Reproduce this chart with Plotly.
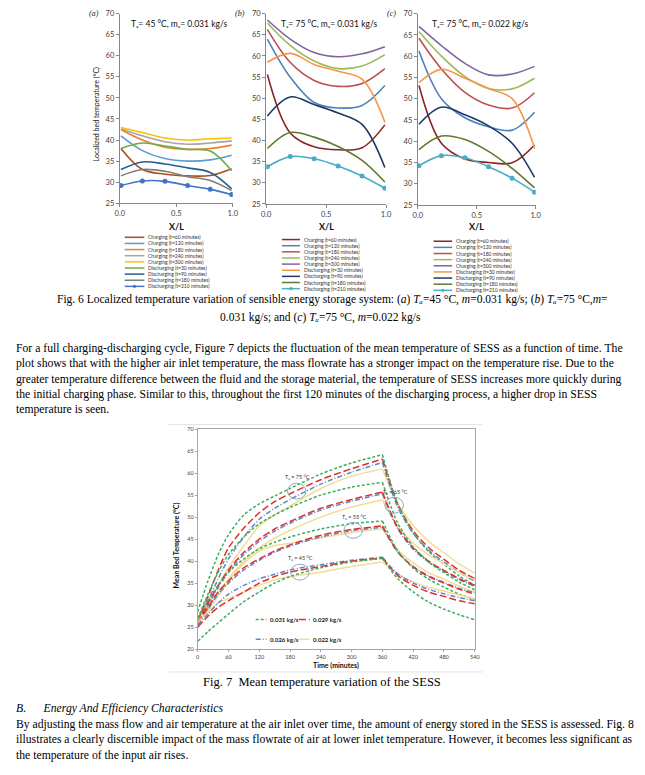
import plotly.graph_objects as go

# The page is drawn inside an 8px body margin; W x H is the figure itself.
W, H = 629, 759
OFF = 8


def px(x):
    return (x - OFF) / W


def py(y):
    return 1 - (y - OFF) / H


# ---------------- Fig. 6 data (localized bed temperature vs X/L) ----------------
X_POS = [0.01, 0.2, 0.4, 0.6, 0.8, 0.99]
SERIES_LABELS = [
    "Charging (t=60 minutes)", "Charging (t=120 minutes)", "Charging (t=180 minutes)",
    "Charging (t=240 minutes)", "Charging (t=300 minutes)", "Discharging (t=30 minutes)",
    "Discharging (t=90 minutes)", "Discharging (t=180 minutes)", "Discharging (t=210 minutes)",
]

# panel (a): Ta=45 C, m=0.031 kg/s
A_C60 = [38.0, 33.0, 31.9, 31.5, 31.6, 33.2]
A_C120 = [41.0, 37.5, 35.6, 35.0, 35.3, 36.4]
A_C180 = [42.5, 40.0, 38.3, 37.8, 38.0, 38.8]
A_C240 = [42.7, 41.0, 39.6, 39.0, 39.3, 39.8]
A_C300 = [43.0, 41.8, 40.5, 40.0, 40.3, 40.5]
A_D30 = [38.0, 39.3, 38.6, 37.8, 37.4, 32.7]
A_D90 = [33.0, 34.8, 34.3, 33.4, 32.3, 28.4]
A_D180 = [31.5, 33.0, 32.6, 31.3, 30.4, 28.0]
A_D210 = [29.2, 30.3, 30.2, 29.2, 28.3, 27.1]

# panel (b): Ta=75 C, m=0.031 kg/s
B_C60 = [55.6, 41.8, 38.5, 37.8, 38.3, 43.7]
B_C120 = [64.0, 55.0, 49.0, 47.7, 48.3, 53.0]
B_C180 = [66.3, 58.5, 54.2, 52.8, 53.5, 57.0]
B_C240 = [67.8, 62.5, 58.8, 57.0, 57.6, 60.3]
B_C300 = [68.5, 64.0, 60.8, 59.8, 60.5, 62.2]
B_D30 = [58.5, 60.6, 58.0, 56.4, 54.5, 44.3]
B_D90 = [45.8, 50.3, 48.5, 46.5, 43.8, 33.6]
B_D180 = [38.1, 41.9, 40.8, 38.6, 35.3, 30.2]
B_D210 = [33.8, 36.2, 35.7, 34.0, 31.6, 28.7]

# panel (c): Ta=75 C, m=0.022 kg/s
C_C60 = [53.1, 39.5, 35.8, 35.0, 34.9, 39.1]
C_C120 = [61.2, 50.0, 45.5, 43.4, 42.6, 46.8]
C_C180 = [64.2, 57.0, 51.5, 48.5, 47.8, 51.4]
C_C240 = [65.8, 60.0, 55.2, 52.4, 52.3, 54.8]
C_C300 = [67.0, 62.5, 58.3, 55.6, 55.8, 57.6]
C_D30 = [53.8, 56.9, 54.8, 52.4, 50.0, 38.3]
C_D90 = [44.0, 48.0, 46.2, 43.6, 39.5, 31.5]
C_D180 = [38.0, 41.2, 40.4, 37.6, 33.6, 29.0]
C_D210 = [34.2, 36.6, 36.1, 34.0, 31.3, 28.0]

COLORS_A = ["#A5501E", "#5B9BD5", "#ED7D31", "#A5A5A5", "#FFC000",
            "#70AD47", "#255E91", "#7F7F7F", "#4472C4"]
COLORS_BC = ["#8B2525", "#4F81BD", "#C0504D", "#9BBB59", "#8064A2",
             "#F79646", "#1F3864", "#5E7A2E", "#4BACC6"]

# ---------------- Fig. 7 data (mean bed temperature vs time) ----------------
TIME_MIN = [0, 20, 40, 60, 90, 120, 150, 180, 240, 300, 360, 390, 420, 450, 480, 510, 540]
T75_F031 = [28.5, 35.5, 41.5, 46.0, 50.5, 53.0, 54.8, 56.5, 59.8, 62.3, 64.2, 52.9, 46.4, 42.2, 39.3, 36.6, 34.5]
T75_F029 = [26.5, 32.0, 38.0, 43.0, 47.5, 51.0, 53.5, 55.3, 58.5, 61.0, 63.2, 52.9, 46.9, 43.1, 40.4, 37.9, 36.0]
T75_F026 = [26.0, 31.0, 36.0, 40.5, 45.5, 49.5, 52.0, 54.0, 57.5, 60.2, 62.4, 52.2, 46.3, 42.5, 39.8, 37.4, 35.5]
T75_F022 = [26.0, 30.0, 34.5, 38.5, 43.5, 48.0, 50.5, 52.5, 56.5, 59.3, 60.9, 53.1, 48.1, 44.5, 41.9, 39.3, 37.2]
T65_F031 = [27.0, 32.5, 37.5, 41.5, 45.5, 48.5, 50.5, 52.2, 55.0, 56.8, 57.9, 48.6, 43.3, 39.8, 37.4, 35.2, 33.5]
T65_F029 = [26.0, 30.5, 34.5, 38.0, 42.0, 45.0, 47.3, 49.0, 52.0, 54.0, 55.7, 47.6, 43.0, 40.0, 37.9, 36.0, 34.5]
T65_F026 = [25.5, 30.0, 34.0, 37.5, 41.5, 44.5, 46.8, 48.6, 51.6, 53.6, 55.3, 47.3, 42.7, 39.8, 37.7, 35.8, 34.3]
T65_F022 = [26.0, 29.5, 33.0, 36.0, 40.0, 43.0, 45.2, 47.0, 50.0, 52.3, 53.9, 47.9, 44.1, 41.4, 39.4, 37.4, 35.8]
T55_F031 = [27.0, 31.0, 34.5, 37.5, 40.5, 42.8, 44.3, 45.5, 47.3, 48.5, 49.1, 42.3, 38.4, 35.9, 34.1, 32.5, 31.3]
T55_F029 = [26.0, 29.5, 33.0, 35.5, 38.5, 40.5, 42.3, 43.7, 45.9, 47.2, 48.0, 42.1, 38.7, 36.5, 35.0, 33.6, 32.5]
T55_F026 = [25.5, 29.0, 32.5, 35.0, 38.0, 40.2, 42.0, 43.4, 45.5, 46.9, 47.7, 42.0, 38.8, 36.7, 35.2, 33.8, 32.8]
T55_F022 = [26.5, 29.0, 32.0, 35.5, 39.5, 42.3, 43.5, 44.0, 45.3, 46.5, 47.3, 42.6, 39.6, 37.4, 35.9, 34.3, 33.0]
T45_F031 = [21.8, 24.0, 26.0, 28.0, 30.8, 33.0, 35.0, 36.5, 38.5, 39.8, 40.6, 36.0, 33.0, 30.7, 29.1, 27.8, 26.7]
T45_F029 = [25.0, 27.5, 29.5, 31.0, 33.0, 35.0, 36.5, 37.5, 38.8, 40.0, 40.7, 36.7, 34.5, 33.0, 32.0, 31.0, 30.3]
T45_F026 = [25.5, 28.0, 30.5, 32.5, 34.5, 36.0, 37.0, 38.0, 39.2, 40.2, 40.9, 37.1, 35.0, 33.6, 32.6, 31.7, 31.0]
T45_F022 = [26.0, 28.5, 30.5, 31.5, 33.0, 34.5, 35.7, 36.5, 37.5, 38.8, 39.8, 37.1, 35.3, 34.1, 33.2, 32.3, 31.5]

FLOW_LABELS = ["0.031 kg/s", "0.029 kg/s", "0.026 kg/s", "0.022 kg/s"]
FLOW_COLORS = ["#3FAE5A", "#E0302C", "#5F86C6", "#F3DC95"]
FLOW_DASHES = ["3px,2px", "7px,3px", "5px,2px,1px,2px", "solid"]
TEMP_GROUPS = [
    [T75_F031, T75_F029, T75_F026, T75_F022],
    [T65_F031, T65_F029, T65_F026, T65_F022],
    [T55_F031, T55_F029, T55_F026, T55_F022],
    [T45_F031, T45_F029, T45_F026, T45_F022],
]
SUB_A = "\u2090"  # subscript a
ELLIPSE_LABELS = ["T" + SUB_A + " = 75 °C", "T" + SUB_A + " = 65 °C", "T" + SUB_A + " = 55 °C", "T" + SUB_A + " = 45 °C"]
ELLIPSE_T = [193, 383, 303, 199]
ELLIPSE_Y = [55.9, 52.7, 47.0, 37.5]

fig = go.Figure()

AX_COLOR = "#868686"
TICK_COLOR = "#404040"
SANS = "Lato, DejaVu Sans"
SERIF = "Liberation Serif, DejaVu Serif"
NB = "\u00a0"

panels = [
    dict(ax="", data=[A_C60, A_C120, A_C180, A_C240, A_C300, A_D30, A_D90, A_D180, A_D210],
         colors=COLORS_A, x0=116.7, x1=231.7, y0=10.7, y1=202.3,
         title="T" + SUB_A + "= 45 °C, m" + SUB_A + "= 0.031 kg/s", tag="(a)", tagx=98,
         leg=(121.7, 141.7, 143.5, 236.7)),
    dict(ax="2", data=[B_C60, B_C120, B_C180, B_C240, B_C300, B_D30, B_D90, B_D180, B_D210],
         colors=COLORS_BC, x0=265.7, x1=387.7, y0=10.7, y1=203.0,
         title="T" + SUB_A + "= 75 °C, m" + SUB_A + "= 0.031 kg/s", tag="(b)", tagx=246,
         leg=(281.7, 300.0, 301.7, 239.0)),
    dict(ax="3", data=[C_C60, C_C120, C_C180, C_C240, C_C300, C_D30, C_D90, C_D180, C_D210],
         colors=COLORS_BC, x0=420.0, x1=540.0, y0=10.7, y1=204.0,
         title="T" + SUB_A + "= 75 °C, m" + SUB_A + "= 0.022 kg/s", tag="(c)", tagx=400,
         leg=(436.0, 455.0, 456.7, 240.7)),
]

annotations = []
shapes = []

for p in panels:
    xa = "x" + p["ax"]
    ya = "y" + p["ax"]
    for i, (vals, col) in enumerate(zip(p["data"], p["colors"])):
        fig.add_trace(go.Scatter(
            x=X_POS, y=vals, xaxis=xa, yaxis=ya, name=SERIES_LABELS[i],
            mode="lines+markers" if i == 8 else "lines",
            line=dict(color=col, width=1.6, shape="spline", smoothing=1.0),
            marker=dict(size=5, color=col), showlegend=False, hoverinfo="skip"))
    axis_common = dict(showline=True, linecolor=AX_COLOR, linewidth=1, ticks="outside",
                       ticklen=3, tickcolor=AX_COLOR, showgrid=False, zeroline=False,
                       tickfont=dict(family=SANS, size=7.5, color=TICK_COLOR))
    fig.update_layout(**{
        ("xaxis" + p["ax"]): dict(domain=[px(p["x0"]), px(p["x1"])], range=[0, 1],
                                 tickvals=[0, 0.5, 1.0], ticktext=["0.0", "0.5", "1.0"],
                                 anchor=ya, **axis_common),
        ("yaxis" + p["ax"]): dict(domain=[py(p["y1"]), py(p["y0"])], range=[25, 70],
                                 dtick=5, anchor=xa, **axis_common),
    })
    annotations.append(dict(x=px((p["x0"] + p["x1"]) / 2 + 3), y=py(20.7), xref="paper", yref="paper",
                            text=p["title"], showarrow=False, xanchor="center", yanchor="middle",
                            font=dict(family=SANS, size=8.5, color="#111111")))
    annotations.append(dict(x=px(p["tagx"]), y=py(10.7), xref="paper", yref="paper",
                            text=p["tag"], showarrow=False, xanchor="right", yanchor="middle",
                            font=dict(family=SERIF, size=8, color="#222222", style="italic")))
    annotations.append(dict(x=px((p["x0"] + p["x1"]) / 2), y=py(226), xref="paper", yref="paper",
                            text="X/L", showarrow=False, xanchor="center", yanchor="middle",
                            font=dict(family=SANS, size=9, color="#111111", weight="bold")))
    lx0, lx1, tx, ly = p["leg"]
    for i, col in enumerate(p["colors"]):
        yy = ly + i * 6.2
        shapes.append(dict(type="line", xref="paper", yref="paper", x0=px(lx0), x1=px(lx1),
                           y0=py(yy), y1=py(yy), line=dict(color=col, width=1.5)))
        if i == 8:
            cx = (lx0 + lx1) / 2
            shapes.append(dict(type="circle", xref="paper", yref="paper", x0=px(cx - 1.6), x1=px(cx + 1.6),
                               y0=py(yy + 1.6), y1=py(yy - 1.6), fillcolor=col, line=dict(color=col, width=0)))
        annotations.append(dict(x=px(tx), y=py(yy), xref="paper", yref="paper", text=SERIES_LABELS[i],
                                showarrow=False, xanchor="left", yanchor="middle",
                                font=dict(family=SANS, size=5, color="#333333")))

annotations.append(dict(x=px(93), y=py(112), xref="paper", yref="paper",
                        text="Localized bed temperature (°C)", textangle=-90, showarrow=False,
                        xanchor="center", yanchor="middle",
                        font=dict(family=SANS, size=7, color="#111111")))

# ---------------- Fig. 7 traces ----------------
for group in TEMP_GROUPS:
    for k in range(3, -1, -1):
        vals = group[k]
        for seg in (slice(0, 11), slice(10, 17)):
            fig.add_trace(go.Scatter(
                x=TIME_MIN[seg], y=vals[seg], xaxis="x4", yaxis="y4", mode="lines",
                name=FLOW_LABELS[k],
                line=dict(color=FLOW_COLORS[k], width=1.5, dash=FLOW_DASHES[k],
                          shape="spline", smoothing=0.8),
                showlegend=False, hoverinfo="skip"))

F7X0, F7X1, F7Y0, F7Y1 = 196.0, 478.0, 430.5, 653.0
f7_axis = dict(showline=True, linecolor="#A6A6A6", linewidth=1, mirror=True, ticks="outside",
               ticklen=2, tickcolor="#A6A6A6", showgrid=False, zeroline=False,
               tickfont=dict(family=SANS, size=5.5, color=TICK_COLOR))
fig.update_layout(
    xaxis4=dict(domain=[px(F7X0), px(F7X1)], range=[0, 540], dtick=60, anchor="y4", **f7_axis),
    yaxis4=dict(domain=[py(F7Y1), py(F7Y0)], range=[20, 70], dtick=5, anchor="x4", **f7_axis),
)

# light outer chart frame lines of Fig. 7
for yy in (426, 676):
    shapes.append(dict(type="line", xref="paper", yref="paper", x0=px(166), x1=px(486),
                       y0=py(yy), y1=py(yy), line=dict(color="#E3E3E3", width=1)))

for lab, tx_, ty_ in zip(ELLIPSE_LABELS, ELLIPSE_T, ELLIPSE_Y):
    shapes.append(dict(type="circle", xref="x4", yref="y4", x0=tx_ - 18, x1=tx_ + 18,
                       y0=ty_ - 1.8, y1=ty_ + 1.8, line=dict(color="#8FA8BF", width=1)))
    annotations.append(dict(x=tx_ + 2, y=ty_ + 3.1, xref="x4", yref="y4", text=lab, showarrow=False,
                            xanchor="center", yanchor="middle",
                            font=dict(family=SANS, size=5.5, color="#333333")))

LEG7 = [(255, 266, 267.5, 623), (299, 310, 311.5, 623), (255, 266, 267.5, 643), (299, 310, 311.5, 643)]
for k, (a0, a1, tx, yy) in enumerate(LEG7):
    shapes.append(dict(type="line", xref="paper", yref="paper", x0=px(a0), x1=px(a1), y0=py(yy), y1=py(yy),
                       line=dict(color=FLOW_COLORS[k], width=1.5, dash=FLOW_DASHES[k])))
    annotations.append(dict(x=px(tx), y=py(yy), xref="paper", yref="paper", text=FLOW_LABELS[k],
                            showarrow=False, xanchor="left", yanchor="middle",
                            font=dict(family=SANS, size=6, color="#222222", weight="bold")))

annotations.append(dict(x=px(174), y=py(548), xref="paper", yref="paper",
                        text="Mean Bed Temperature (°C)", textangle=-90, showarrow=False,
                        xanchor="center", yanchor="middle",
                        font=dict(family=SANS, size=7, color="#111111", weight="bold")))
annotations.append(dict(x=px(337), y=py(669), xref="paper", yref="paper",
                        text="Time (minutes)", showarrow=False,
                        xanchor="center", yanchor="middle",
                        font=dict(family=SANS, size=7, color="#111111", weight="bold")))


# ---------------- page text ----------------
def text_line(txt, x, y, anchor="left", size=11.7, style="normal"):
    annotations.append(dict(x=px(x), y=py(y), xref="paper", yref="paper", text=txt, showarrow=False,
                            xanchor=anchor, yanchor="middle",
                            font=dict(family=SERIF, size=size, color="#000000", style=style)))


text_line("Fig. 6 Localized temperature variation of sensible energy storage system: (<i>a</i>) "
          "<i>T" + SUB_A + "</i>=45 °C, <i>m</i>=0.031 kg/s; (<i>b</i>) <i>T" + SUB_A + "</i>=75 °C,<i>m</i>=",
          333, 300, "center", 11.5)
text_line("0.031 kg/s; and (<i>c</i>) <i>T" + SUB_A + "</i>=75 °C, <i>m</i>=0.022 kg/s", 321, 318, "center", 11.5)

PARA1 = [
    "For a full charging-discharging cycle, Figure 7 depicts the fluctuation of the mean temperature of SESS as a function of time. The",
    "plot shows that with the higher air inlet temperature, the mass flowrate has a stronger impact on the temperature rise. Due to the",
    "greater temperature difference between the fluid and the storage material, the temperature of SESS increases more quickly during",
    "the initial charging phase. Similar to this, throughout the first 120 minutes of the discharging process, a higher drop in SESS",
    "temperature is seen.",
]
for i, line in enumerate(PARA1):
    text_line(line, 9, 349 + i * 15.5)

text_line("Fig. 7" + NB * 2 + "Mean temperature variation of the SESS", 323, 686, "center", 12.5)
text_line("B." + NB * 6 + "Energy And Efficiency Characteristics", 9, 713, style="italic")
PARA2 = [
    "By adjusting the mass flow and air temperature at the air inlet over time, the amount of energy stored in the SESS is assessed. Fig. 8",
    "illustrates a clearly discernible impact of the mass flowrate of air at lower inlet temperature. However, it becomes less significant as",
    "the temperature of the input air rises.",
]
for i, line in enumerate(PARA2):
    text_line(line, 9, 729 + i * 15.5)

fig.update_layout(
    width=W, height=H, margin=dict(l=0, r=0, t=0, b=0),
    paper_bgcolor="white", plot_bgcolor="white", showlegend=False,
    annotations=annotations, shapes=shapes,
)

fig.write_html("out.html")
